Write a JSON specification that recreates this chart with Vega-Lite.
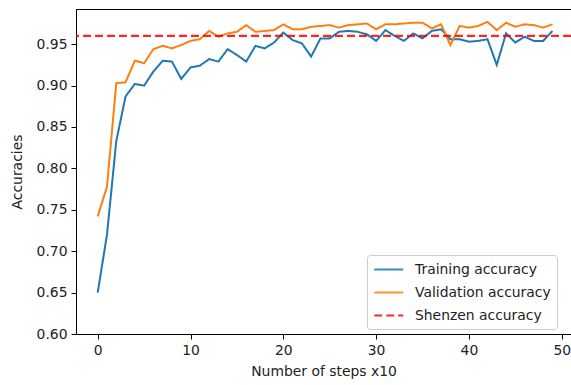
{
  "$schema": "https://vega.github.io/schema/vega-lite/v6.json",
  "width": 495,
  "height": 325,
  "autosize": {"type": "none"},
  "padding": {"left": 76, "top": 9, "right": 0, "bottom": 51},
  "config": {
    "font": "DejaVu Sans",
    "view": {"stroke": "#000000", "strokeWidth": 1},
    "axis": {
      "grid": false,
      "domainColor": "#000000",
      "tickColor": "#000000",
      "tickSize": 5,
      "labelFontSize": 13.9,
      "labelColor": "#222222",
      "titleFontSize": 13.9,
      "titleFontWeight": "normal",
      "titleColor": "#222222",
      "labelPadding": 4
    },
    "legend": {
      "orient": "none",
      "legendX": 291,
      "legendY": 246,
      "symbolType": "M-1,0H3",
      "symbolSize": 210,
      "symbolStrokeWidth": 2,
      "labelFontSize": 13.9,
      "labelColor": "#222222",
      "strokeColor": "#cccccc",
      "fillColor": "#ffffff",
      "padding": 6,
      "cornerRadius": 3,
      "rowPadding": 7,
      "labelOffset": 25
    }
  },
  "datasets": {
    "curves": [
      {"step": 0, "series": "Training accuracy", "acc": 0.65},
      {"step": 1, "series": "Training accuracy", "acc": 0.72},
      {"step": 2, "series": "Training accuracy", "acc": 0.833},
      {"step": 3, "series": "Training accuracy", "acc": 0.887},
      {"step": 4, "series": "Training accuracy", "acc": 0.902},
      {"step": 5, "series": "Training accuracy", "acc": 0.9},
      {"step": 6, "series": "Training accuracy", "acc": 0.917},
      {"step": 7, "series": "Training accuracy", "acc": 0.93},
      {"step": 8, "series": "Training accuracy", "acc": 0.929},
      {"step": 9, "series": "Training accuracy", "acc": 0.908},
      {"step": 10, "series": "Training accuracy", "acc": 0.922},
      {"step": 11, "series": "Training accuracy", "acc": 0.924},
      {"step": 12, "series": "Training accuracy", "acc": 0.932},
      {"step": 13, "series": "Training accuracy", "acc": 0.929},
      {"step": 14, "series": "Training accuracy", "acc": 0.944},
      {"step": 15, "series": "Training accuracy", "acc": 0.937},
      {"step": 16, "series": "Training accuracy", "acc": 0.929},
      {"step": 17, "series": "Training accuracy", "acc": 0.948},
      {"step": 18, "series": "Training accuracy", "acc": 0.945},
      {"step": 19, "series": "Training accuracy", "acc": 0.952},
      {"step": 20, "series": "Training accuracy", "acc": 0.964},
      {"step": 21, "series": "Training accuracy", "acc": 0.955},
      {"step": 22, "series": "Training accuracy", "acc": 0.951},
      {"step": 23, "series": "Training accuracy", "acc": 0.935},
      {"step": 24, "series": "Training accuracy", "acc": 0.957},
      {"step": 25, "series": "Training accuracy", "acc": 0.957},
      {"step": 26, "series": "Training accuracy", "acc": 0.965},
      {"step": 27, "series": "Training accuracy", "acc": 0.966},
      {"step": 28, "series": "Training accuracy", "acc": 0.965},
      {"step": 29, "series": "Training accuracy", "acc": 0.962},
      {"step": 30, "series": "Training accuracy", "acc": 0.954},
      {"step": 31, "series": "Training accuracy", "acc": 0.967},
      {"step": 32, "series": "Training accuracy", "acc": 0.96},
      {"step": 33, "series": "Training accuracy", "acc": 0.954},
      {"step": 34, "series": "Training accuracy", "acc": 0.963},
      {"step": 35, "series": "Training accuracy", "acc": 0.957},
      {"step": 36, "series": "Training accuracy", "acc": 0.966},
      {"step": 37, "series": "Training accuracy", "acc": 0.968},
      {"step": 38, "series": "Training accuracy", "acc": 0.956},
      {"step": 39, "series": "Training accuracy", "acc": 0.956},
      {"step": 40, "series": "Training accuracy", "acc": 0.953},
      {"step": 41, "series": "Training accuracy", "acc": 0.954},
      {"step": 42, "series": "Training accuracy", "acc": 0.956},
      {"step": 43, "series": "Training accuracy", "acc": 0.925},
      {"step": 44, "series": "Training accuracy", "acc": 0.963},
      {"step": 45, "series": "Training accuracy", "acc": 0.952},
      {"step": 46, "series": "Training accuracy", "acc": 0.959},
      {"step": 47, "series": "Training accuracy", "acc": 0.954},
      {"step": 48, "series": "Training accuracy", "acc": 0.954},
      {"step": 49, "series": "Training accuracy", "acc": 0.966},
      {"step": 0, "series": "Validation accuracy", "acc": 0.742},
      {"step": 1, "series": "Validation accuracy", "acc": 0.778},
      {"step": 2, "series": "Validation accuracy", "acc": 0.903},
      {"step": 3, "series": "Validation accuracy", "acc": 0.904},
      {"step": 4, "series": "Validation accuracy", "acc": 0.93},
      {"step": 5, "series": "Validation accuracy", "acc": 0.927},
      {"step": 6, "series": "Validation accuracy", "acc": 0.944},
      {"step": 7, "series": "Validation accuracy", "acc": 0.948},
      {"step": 8, "series": "Validation accuracy", "acc": 0.945},
      {"step": 9, "series": "Validation accuracy", "acc": 0.949},
      {"step": 10, "series": "Validation accuracy", "acc": 0.954},
      {"step": 11, "series": "Validation accuracy", "acc": 0.956},
      {"step": 12, "series": "Validation accuracy", "acc": 0.966},
      {"step": 13, "series": "Validation accuracy", "acc": 0.959},
      {"step": 14, "series": "Validation accuracy", "acc": 0.963},
      {"step": 15, "series": "Validation accuracy", "acc": 0.965},
      {"step": 16, "series": "Validation accuracy", "acc": 0.973},
      {"step": 17, "series": "Validation accuracy", "acc": 0.965},
      {"step": 18, "series": "Validation accuracy", "acc": 0.966},
      {"step": 19, "series": "Validation accuracy", "acc": 0.967},
      {"step": 20, "series": "Validation accuracy", "acc": 0.974},
      {"step": 21, "series": "Validation accuracy", "acc": 0.968},
      {"step": 22, "series": "Validation accuracy", "acc": 0.968},
      {"step": 23, "series": "Validation accuracy", "acc": 0.971},
      {"step": 24, "series": "Validation accuracy", "acc": 0.972},
      {"step": 25, "series": "Validation accuracy", "acc": 0.973},
      {"step": 26, "series": "Validation accuracy", "acc": 0.97},
      {"step": 27, "series": "Validation accuracy", "acc": 0.973},
      {"step": 28, "series": "Validation accuracy", "acc": 0.974},
      {"step": 29, "series": "Validation accuracy", "acc": 0.975},
      {"step": 30, "series": "Validation accuracy", "acc": 0.968},
      {"step": 31, "series": "Validation accuracy", "acc": 0.974},
      {"step": 32, "series": "Validation accuracy", "acc": 0.974},
      {"step": 33, "series": "Validation accuracy", "acc": 0.975},
      {"step": 34, "series": "Validation accuracy", "acc": 0.976},
      {"step": 35, "series": "Validation accuracy", "acc": 0.976},
      {"step": 36, "series": "Validation accuracy", "acc": 0.969},
      {"step": 37, "series": "Validation accuracy", "acc": 0.974},
      {"step": 38, "series": "Validation accuracy", "acc": 0.949},
      {"step": 39, "series": "Validation accuracy", "acc": 0.972},
      {"step": 40, "series": "Validation accuracy", "acc": 0.97},
      {"step": 41, "series": "Validation accuracy", "acc": 0.972},
      {"step": 42, "series": "Validation accuracy", "acc": 0.977},
      {"step": 43, "series": "Validation accuracy", "acc": 0.967},
      {"step": 44, "series": "Validation accuracy", "acc": 0.976},
      {"step": 45, "series": "Validation accuracy", "acc": 0.971},
      {"step": 46, "series": "Validation accuracy", "acc": 0.974},
      {"step": 47, "series": "Validation accuracy", "acc": 0.973},
      {"step": 48, "series": "Validation accuracy", "acc": 0.97},
      {"step": 49, "series": "Validation accuracy", "acc": 0.974}
    ],
    "reference": [
      {"series": "Shenzen accuracy", "acc": 0.96}
    ]
  },
  "layer": [
    {
      "data": {"name": "curves"},
      "mark": {"type": "line", "strokeWidth": 2, "clip": true},
      "encoding": {
        "x": {
          "field": "step",
          "type": "quantitative",
          "scale": {"domain": [-2.34, 51.0], "nice": false, "zero": false},
          "axis": {"values": [0, 10, 20, 30, 40, 50], "title": "Number of steps x10", "titlePadding": 8}
        },
        "y": {
          "field": "acc",
          "type": "quantitative",
          "scale": {"domain": [0.6, 0.9925], "nice": false, "zero": false},
          "axis": {"values": [0.6, 0.65, 0.7, 0.75, 0.8, 0.85, 0.9, 0.95], "format": ".2f", "title": "Accuracies", "titlePadding": 12}
        },
        "color": {
          "field": "series",
          "type": "nominal",
          "scale": {"domain": ["Training accuracy", "Validation accuracy", "Shenzen accuracy"], "range": ["#1f77b4", "#ff7f0e", "#ff0000"]},
          "legend": {"title": null}
        },
        "strokeDash": {
          "field": "series",
          "type": "nominal",
          "scale": {"domain": ["Training accuracy", "Validation accuracy", "Shenzen accuracy"], "range": [[1, 0], [1, 0], [8, 4]]},
          "legend": {"title": null}
        }
      }
    },
    {
      "data": {"name": "reference"},
      "mark": {"type": "rule", "strokeWidth": 2.2, "opacity": 0.85},
      "encoding": {
        "y": {"field": "acc", "type": "quantitative"},
        "color": {"field": "series", "type": "nominal"},
        "strokeDash": {"field": "series", "type": "nominal"}
      }
    }
  ]
}
